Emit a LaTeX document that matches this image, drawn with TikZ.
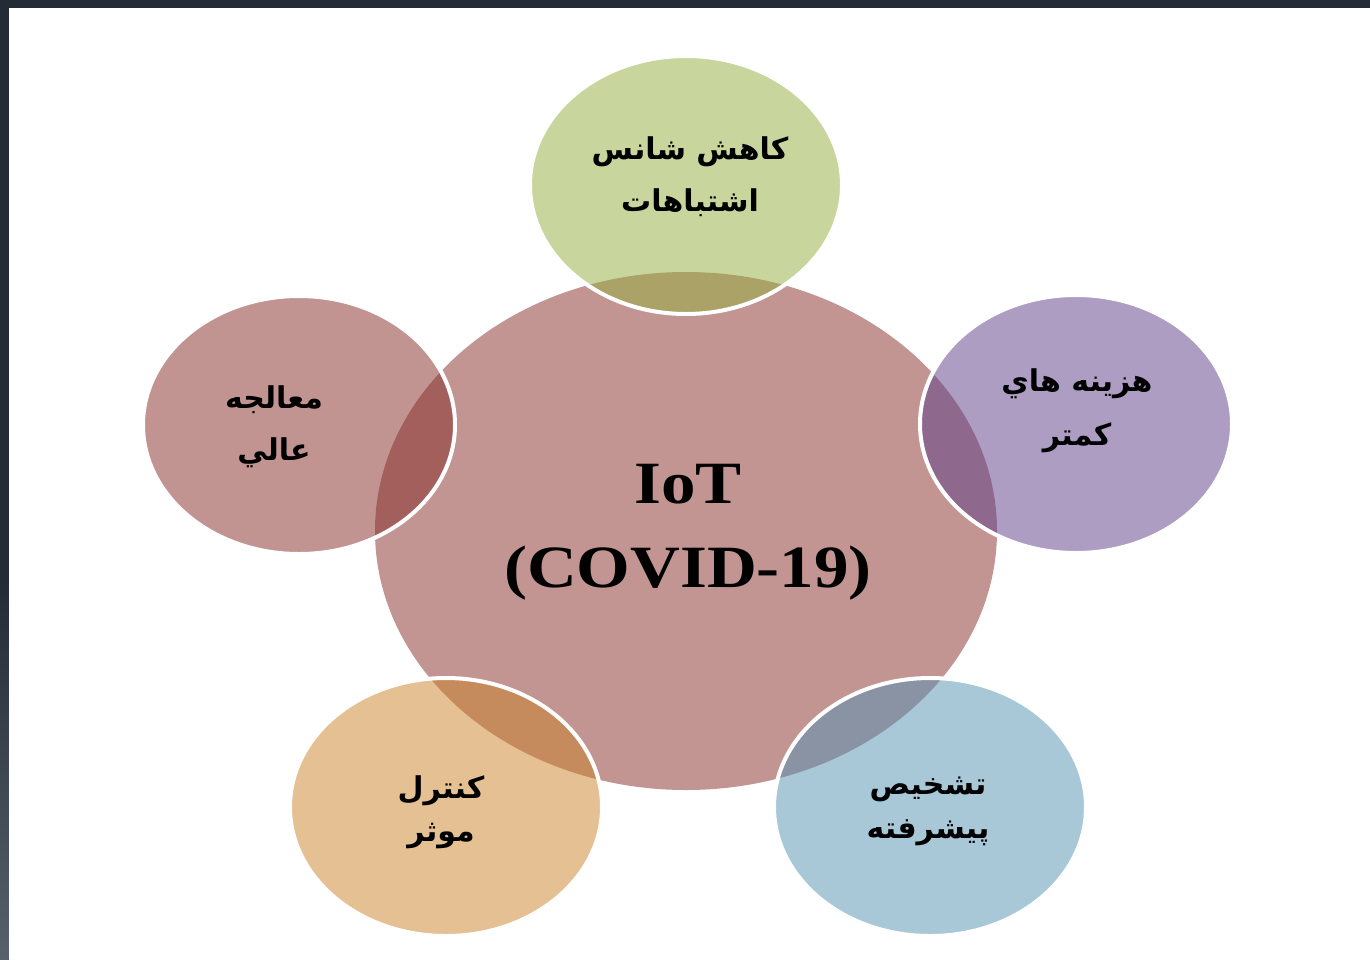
\documentclass[tikz,border=0pt]{standalone}
\usepackage{fontspec}
\setmainfont{Liberation Serif}
\newfontfamily\arabicfont[Script=Arabic]{DejaVu Sans}
\TeXXeTstate=1
\definecolor{frame}{HTML}{232B36}
\definecolor{framelow}{HTML}{56616C}
\definecolor{hub}{HTML}{C29593}
\definecolor{cgreen}{RGB}{147,175,61}
\definecolor{cpurple}{RGB}{93,61,137}
\definecolor{cred}{RGB}{133,43,39}
\definecolor{corange}{RGB}{203,131,41}
\definecolor{cblue}{RGB}{83,147,179}
\tikzset{
  hubshape/.style={ellipse, fill=hub, minimum width=622pt, minimum height=518pt, inner sep=0pt},
  sat/.style={ellipse, draw=white, line width=4pt, fill opacity=0.5, minimum width=312pt, minimum height=258pt, inner sep=0pt},
  fatext/.style={text=black, align=center, font=\arabicfont\bfseries\fontsize{30}{52}\selectfont},
}
\usetikzlibrary{shapes.geometric}
\begin{document}
\begin{tikzpicture}[x=1pt,y=-1pt]
\useasboundingbox (0,0) rectangle (1370,959);
\fill[frame] (0,0) rectangle (1370,959);
\shade[top color=frame, bottom color=framelow] (0,580) rectangle (9,959);
\fill[white] (9,8) rectangle (1370,959);
\node[hubshape] (hub) at (686,531) {};
\node[sat, fill=cgreen] (top) at (686,185) {};
\node[sat, fill=cpurple] (right) at (1076,424) {};
\node[sat, fill=cred] (left) at (299,425) {};
\node[sat, fill=corange] (bl) at (446,807) {};
\node[sat, fill=cblue] (br) at (930,807) {};
\node[font=\bfseries\fontsize{60}{84}\selectfont, align=center, xscale=1.15, transform shape] (hubtext) at (688,532) {IoT\\(COVID-19)};
\node[fatext] (ttop) at (690,177) {\beginR کاهش شانس\endR\\\beginR اشتباهات\endR};
\node[fatext, font=\arabicfont\bfseries\fontsize{30}{54}\selectfont] (tright) at (1077,411) {\beginR هزينه هاي\endR\\\beginR كمتر\endR};
\node[fatext] (tleft) at (274,427) {\beginR معالجه\endR\\\beginR عالي\endR};
\node[fatext, font=\arabicfont\bfseries\fontsize{30}{43}\selectfont] (tbl) at (441,812) {\beginR كنترل\endR\\\beginR موثر\endR};
\node[fatext, font=\arabicfont\bfseries\fontsize{30}{44}\selectfont] (tbr) at (928,811) {\beginR تشخيص\endR\\\beginR پيشرفته\endR};
\end{tikzpicture}
\end{document}
